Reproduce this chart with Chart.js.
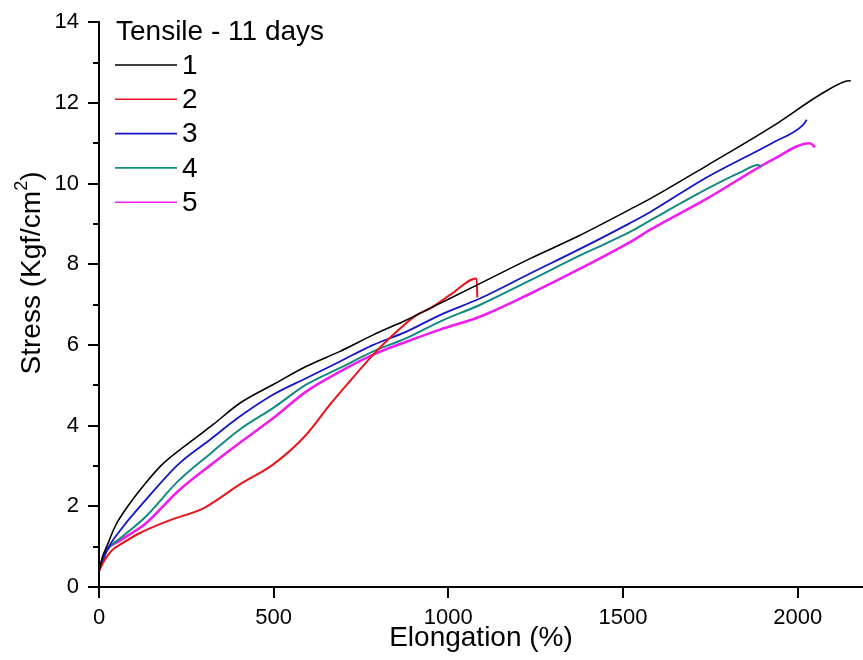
<!DOCTYPE html>
<html><head><meta charset="utf-8">
<script src="https://cdn.jsdelivr.net/npm/chart.js@4.4.1/dist/chart.umd.min.js"></script>
<style>html,body{margin:0;padding:0;background:#fff}#wrap{width:863px;height:660px;position:relative}</style>
</head><body><div id="wrap"><canvas id="c" width="863" height="660"></canvas></div>
<script>
const legendTitle = 'Tensile - 11 days';
const seriesNames = ['1', '2', '3', '4', '5'];
const seriesColors = ['#000000', '#e8141b', '#1414c8', '#138a80', '#f01cf0'];
const seriesWidths = [1.6, 2, 1.8, 2, 2.6];
const xTicks = [0, 500, 1000, 1500, 2000];
const yMajor = [0, 2, 4, 6, 8, 10, 12, 14];
const yMinor = [1, 3, 5, 7, 9, 11, 13];
const xTitle = 'Elongation (%)';
const yTitleMain = 'Stress (Kgf/cm';
const yTitleSup = '2';
const yTitleEnd = ')';

const elong1 = [0, 10, 22, 46, 84, 132, 179, 265, 327, 404, 499, 594, 690, 785, 880, 957, 1090, 1234, 1377, 1520, 1577, 1739, 1930, 2073, 2140, 2152];
const stress1 = [0.40, 0.75, 1.00, 1.50, 2.02, 2.56, 3.02, 3.62, 4.03, 4.56, 5.02, 5.47, 5.84, 6.25, 6.62, 6.95, 7.52, 8.14, 8.72, 9.36, 9.62, 10.44, 11.43, 12.25, 12.54, 12.55];
const elong2 = [0, 15, 36, 70, 113, 198, 303, 404, 499, 594, 661, 718, 785, 842, 909, 947, 1005, 1081, 1083];
const stress2 = [0.40, 0.65, 0.90, 1.10, 1.32, 1.64, 1.97, 2.55, 3.04, 3.78, 4.52, 5.10, 5.76, 6.25, 6.74, 6.90, 7.24, 7.65, 7.18];
const elong3 = [0, 22, 65, 132, 227, 313, 404, 499, 594, 690, 785, 880, 976, 1090, 1234, 1377, 1520, 1577, 1739, 1930, 2015, 2026];
const stress3 = [0.40, 0.90, 1.45, 2.14, 3.04, 3.62, 4.23, 4.77, 5.18, 5.59, 6.00, 6.33, 6.74, 7.15, 7.77, 8.38, 9.02, 9.29, 10.15, 11.02, 11.45, 11.58];
const elong4 = [0, 22, 60, 132, 227, 322, 404, 499, 594, 690, 785, 880, 976, 1090, 1234, 1377, 1520, 1577, 1739, 1834, 1887, 1895];
const stress4 = [0.40, 0.90, 1.20, 1.73, 2.63, 3.33, 3.91, 4.44, 5.02, 5.43, 5.84, 6.17, 6.58, 6.99, 7.60, 8.22, 8.80, 9.08, 9.86, 10.27, 10.46, 10.42];
const elong5 = [0, 22, 60, 132, 227, 322, 404, 499, 594, 690, 785, 880, 976, 1090, 1234, 1377, 1520, 1577, 1739, 1930, 2035, 2050];
const stress5 = [0.40, 0.90, 1.15, 1.56, 2.38, 3.04, 3.58, 4.19, 4.85, 5.34, 5.76, 6.08, 6.38, 6.70, 7.27, 7.89, 8.55, 8.85, 9.62, 10.60, 11.00, 10.90];

const elongs = [elong1, elong2, elong3, elong4, elong5];
const stresses = [stress1, stress2, stress3, stress4, stress5];

const FONT = 'Arial, "Liberation Sans", sans-serif';

const datasets = seriesNames.map((name, i) => ({
  label: name,
  data: elongs[i].map((x, j) => ({ x: x, y: stresses[i][j] })),
  borderColor: seriesColors[i],
  backgroundColor: seriesColors[i],
  borderWidth: seriesWidths[i],
  pointRadius: 0,
  showLine: true,
  fill: false,
  cubicInterpolationMode: 'monotone'
}));

const extras = {
  id: 'extras',
  afterDraw(chart) {
    const ctx = chart.ctx;
    const ys = chart.scales.y;
    const left = chart.chartArea.left;
    ctx.save();
    // minor y ticks
    ctx.strokeStyle = '#000';
    ctx.lineWidth = 2;
    yMinor.forEach(v => {
      const p = Math.round(ys.getPixelForValue(v));
      ctx.beginPath();
      ctx.moveTo(left - 6, p);
      ctx.lineTo(left, p);
      ctx.stroke();
    });
    // legend
    ctx.fillStyle = '#000';
    ctx.font = '28px ' + FONT;
    ctx.textBaseline = 'middle';
    ctx.textAlign = 'left';
    ctx.fillText(legendTitle, 116, 32);
    seriesNames.forEach((name, i) => {
      const y = 65 + i * 34.3;
      ctx.strokeStyle = seriesColors[i];
      ctx.lineWidth = 1.6;
      ctx.beginPath();
      ctx.moveTo(115, y);
      ctx.lineTo(177, y);
      ctx.stroke();
      ctx.fillStyle = '#000';
      ctx.fillText(name, 182, y + 1);
    });
    // y title
    ctx.translate(30, 273);
    ctx.rotate(-Math.PI / 2);
    ctx.font = '28px ' + FONT;
    const wa = ctx.measureText(yTitleMain).width;
    const wc = ctx.measureText(yTitleEnd).width;
    ctx.font = '18px ' + FONT;
    const wb = ctx.measureText(yTitleSup).width;
    const start = -(wa + wb + wc) / 2;
    ctx.textAlign = 'left';
    ctx.textBaseline = 'alphabetic';
    ctx.font = '28px ' + FONT;
    ctx.fillText(yTitleMain, start, 10);
    ctx.font = '18px ' + FONT;
    ctx.fillText(yTitleSup, start + wa, -3);
    ctx.font = '28px ' + FONT;
    ctx.fillText(yTitleEnd, start + wa + wb, 10);
    ctx.restore();
  }
};

new Chart(document.getElementById('c'), {
  type: 'scatter',
  data: { datasets: datasets },
  options: {
    responsive: false,
    animation: false,
    devicePixelRatio: 1,
    layout: { padding: { top: 19, right: 0, left: 0, bottom: 0 } },
    plugins: { legend: { display: false }, tooltip: { enabled: false } },
    scales: {
      x: {
        type: 'linear',
        min: 0,
        max: 2187,
        afterBuildTicks: s => { s.ticks = xTicks.map(v => ({ value: v })); },
        afterFit: s => { s.height = 73; },
        ticks: { color: '#000', font: { size: 22, family: FONT }, padding: 7, maxRotation: 0, autoSkip: false, callback: v => String(v) },
        grid: { drawOnChartArea: false, color: '#000', lineWidth: 2, tickLength: 11, tickColor: '#000', tickWidth: 2 },
        border: { display: true, color: '#000', width: 2 },
        title: { display: true, text: xTitle, color: '#000', font: { size: 28, family: FONT }, padding: { top: 0, bottom: 5 } }
      },
      y: {
        type: 'linear',
        min: 0,
        max: 14,
        afterBuildTicks: s => { s.ticks = yMajor.map(v => ({ value: v })); },
        afterFit: s => { s.width = 99; },
        ticks: { color: '#000', font: { size: 22, family: FONT }, padding: 9, autoSkip: false, callback: v => String(v) },
        grid: { drawOnChartArea: false, color: '#000', lineWidth: 2, tickLength: 11, tickColor: '#000', tickWidth: 2 },
        border: { display: true, color: '#000', width: 2 },
        title: { display: false }
      }
    }
  },
  plugins: [extras]
});
</script>
</body></html>
